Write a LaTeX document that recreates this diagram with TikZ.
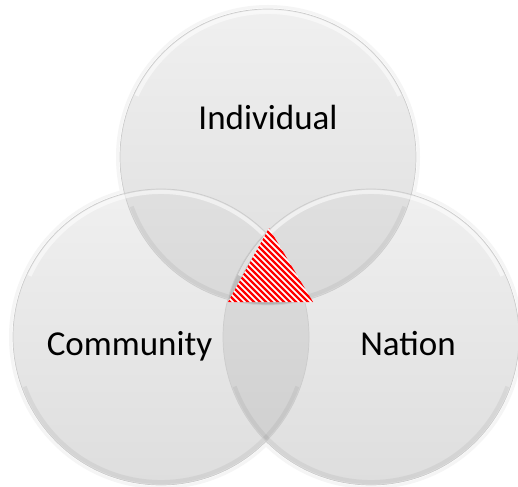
\documentclass[tikz,border=0pt]{standalone}
\usepackage{fontspec}
\setmainfont{Carlito}
\begin{document}
\begin{tikzpicture}[x=1pt,y=-1pt,
  lbl/.style={font=\fontsize{35}{40}\selectfont, text=black, anchor=base, inner sep=0pt},
  basefill/.style={top color=black!6, bottom color=black!13},
  lensfill/.style={fill=black, opacity=0.065},
  rim/.style={draw=black!20, line width=0.7pt},
  glow/.style={draw=white, opacity=0.55, line width=4pt},
  stripe/.style={draw=red, line width=2.3pt}
]
\useasboundingbox (0,0) rectangle (518,486);
\fill[white] (0,0) rectangle (518,486);
\def\R{148pt}
\coordinate (ct) at (268,157);
\coordinate (cl) at (161,337);
\coordinate (cr) at (371,337);
% faint outer halo
\foreach \c in {ct,cl,cr} \draw[black!4, line width=3pt] (\c) circle [radius=150.5pt];
% base discs
\foreach \c in {ct,cl,cr} \shade[basefill] (\c) circle [radius=\R];
% pairwise overlaps
\begin{scope}
  \clip (ct) circle [radius=\R];
  \fill[lensfill] (cl) circle [radius=\R];
  \fill[lensfill] (cr) circle [radius=\R];
\end{scope}
\begin{scope}
  \clip (cl) circle [radius=\R];
  \fill[lensfill] (cr) circle [radius=\R];
\end{scope}
% bevel highlights and rims
\foreach \c in {ct,cl,cr} {
  \draw[glow] ([shift={(25:145pt)}]\c) arc [start angle=25, end angle=155, radius=145pt];
  \draw[black, opacity=0.05, line width=4pt] ([shift={(200:145pt)}]\c) arc [start angle=200, end angle=340, radius=145pt];
  \draw[rim] (\c) circle [radius=\R];
}
% hatched triangle
\coordinate (ta) at (269,228);
\coordinate (tb) at (228,302);
\coordinate (tc) at (313,302);
\begin{scope}
  \clip (ta) -- (tb) -- (tc) -- cycle;
  \fill[white] (ta) -- (tb) -- (tc) -- cycle;
  \foreach \i in {-20,...,20} \draw[stripe] (180+\i*6,210) -- ++(110,110);
\end{scope}
% labels
\node[lbl] (ind) at (268,130) {Individual};
\node[lbl] (com) at (129.5,355) {Community};
\node[lbl] (nat) at (408,355) {Nation};
\end{tikzpicture}
\end{document}
